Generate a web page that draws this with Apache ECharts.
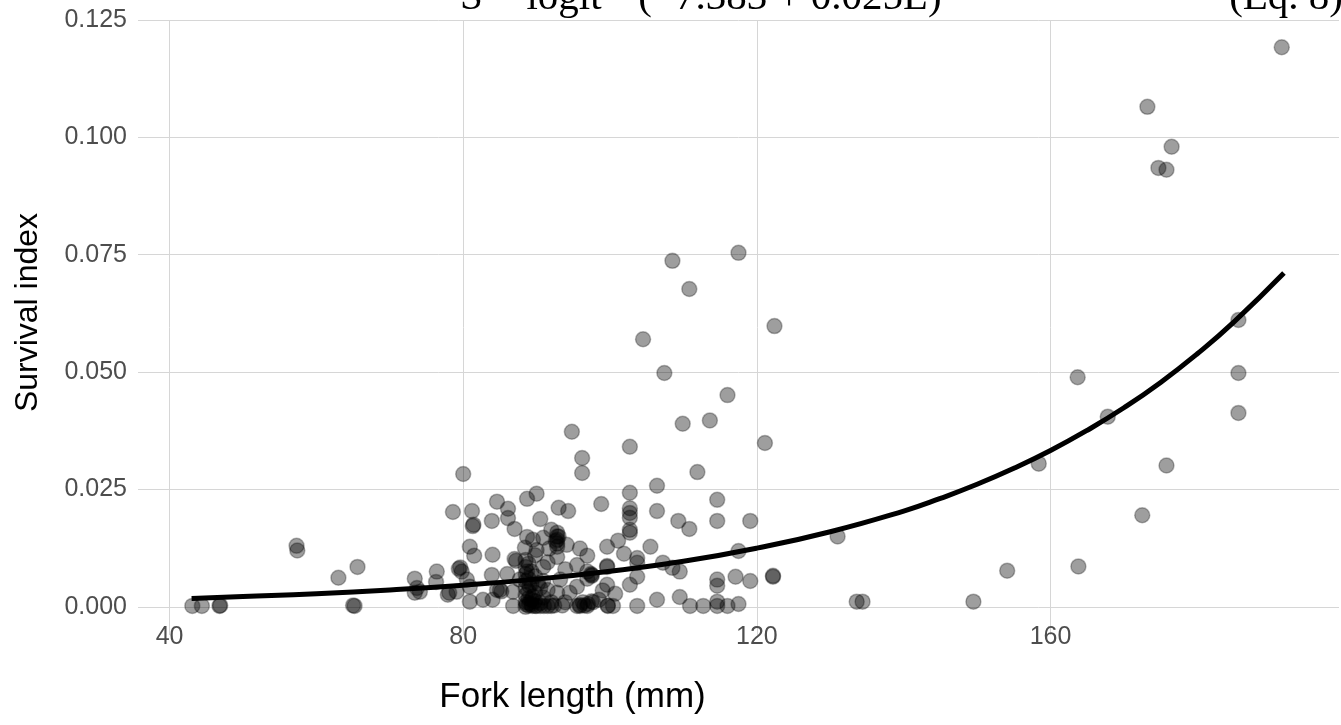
<!DOCTYPE html>
<html>
<head>
<meta charset="utf-8">
<script src="https://cdn.jsdelivr.net/npm/echarts@6/dist/echarts.min.js"></script>
<style>
html,body{margin:0;padding:0;background:#fff;}
#chart{width:1341px;height:725px;}
</style>
</head>
<body>
<div id="chart"></div>
<script>
// ---- data ----
const xTickValues = [40, 80, 120, 160];
const yTickValues = [0, 0.025, 0.05, 0.075, 0.1, 0.125];
const xAxisTitle = 'Fork length (mm)';
const yAxisTitle = 'Survival index';
const equationText = 'S = logit\u207B\u00B9 (\u22127.383 + 0.025L)';
const equationTag = '(Eq. 8)';

// observed fish: [fork length (mm), survival index]
const fishObservations = [
  [43.1,0.0002],[44.4,0.0002],[46.8,0.0002],[46.9,0.0003],
  [57.3,0.0130],[57.4,0.0120],[63.0,0.0062],[65.6,0.0085],[65.0,0.0003],[65.2,0.0002],
  [73.4,0.0060],[73.7,0.0040],[74.1,0.0032],[73.4,0.0030],[76.4,0.0075],[76.3,0.0053],
  [77.9,0.0026],[78.1,0.0030],[78.6,0.0202],[79.4,0.0081],[79.6,0.0084],[79.8,0.0075],[79.1,0.0032],
  [80.0,0.0283],[80.5,0.0058],[80.9,0.0043],[80.9,0.0011],[80.9,0.0128],
  [81.2,0.0204],[81.3,0.0172],[81.4,0.0175],[81.5,0.0109],[82.7,0.0015],
  [83.9,0.0183],[83.9,0.0068],[84.0,0.0111],[84.0,0.0015],[84.6,0.0224],[84.6,0.0036],
  [85.0,0.0036],[85.2,0.0033],[86.1,0.0209],[86.1,0.0189],[86.0,0.0070],[86.8,0.0032],[86.8,0.0002],
  [87.0,0.0166],[87.0,0.0102],[87.2,0.0098],[87.7,0.0058],[88.4,0.0126],[88.7,0.0230],[88.7,0.0149],
  [88.5,0.0000],[88.5,0.0010],[88.5,0.0025],[88.5,0.0040],[88.5,0.0055],[88.5,0.0070],[88.5,0.0085],[88.5,0.0100],
  [88.6,0.0005],[88.7,0.0075],[89.0,0.0008],[89.0,0.0045],[89.4,0.0002],[89.5,0.0022],[90.0,0.0002],[90.2,0.0050],
  [88.9,0.0003],[88.9,0.0018],[88.9,0.0033],[88.9,0.0060],[88.9,0.0092],
  [89.3,0.0005],[89.3,0.0015],[89.3,0.0048],[89.3,0.0075],[89.5,0.0143],
  [89.8,0.0002],[89.8,0.0012],[89.8,0.0030],[89.8,0.0065],[89.8,0.0110],
  [90.0,0.0241],[90.0,0.0121],[90.5,0.0187],[90.5,0.0002],[90.5,0.0008],[90.5,0.0040],
  [90.9,0.0147],[90.9,0.0020],[90.9,0.0055],[90.9,0.0085],[91.0,0.0002],
  [91.5,0.0036],[91.5,0.0002],[91.5,0.0095],[91.7,0.0124],
  [92.0,0.0164],[92.0,0.0002],[92.0,0.0010],[92.4,0.0003],[92.6,0.0140],
  [92.8,0.0106],[92.8,0.0030],[92.8,0.0158],[92.8,0.0150],[92.8,0.0143],[92.8,0.0135],[92.8,0.0128],
  [93.0,0.0211],[93.0,0.0150],[93.2,0.0058],[93.5,0.0003],[93.9,0.0010],[93.9,0.0080],[94.1,0.0132],[94.3,0.0204],[94.5,0.0030],[94.8,0.0373],
  [95.5,0.0089],[95.5,0.0043],[95.5,0.0002],[95.9,0.0124],[95.9,0.0002],[95.9,0.0004],
  [96.2,0.0317],[96.2,0.0285],[96.3,0.0010],[96.5,0.0003],[96.9,0.0109],[96.9,0.0075],[96.9,0.0002],[96.9,0.0060],[97.0,0.0006],
  [97.4,0.0070],[97.5,0.0068],[97.5,0.0066],[97.5,0.0012],[97.7,0.0010],[98.5,0.0015],[98.8,0.0219],[99.0,0.0035],
  [99.6,0.0128],[99.6,0.0085],[99.6,0.0087],[99.6,0.0047],[99.7,0.0002],[99.7,0.0003],
  [100.4,0.0002],[100.7,0.0028],[101.1,0.0141],[101.9,0.0113],
  [102.7,0.0341],[102.7,0.0243],[102.7,0.0210],[102.7,0.0200],[102.7,0.0190],[102.7,0.0164],[102.7,0.0158],[102.7,0.0047],
  [103.7,0.0104],[103.7,0.0094],[103.7,0.0064],[103.7,0.0002],
  [104.5,0.0570],[105.5,0.0128],[106.4,0.0258],[106.4,0.0204],[106.4,0.0015],
  [107.2,0.0094],[107.4,0.0498],[108.5,0.0737],[108.5,0.0083],[109.3,0.0183],
  [109.5,0.0075],[109.5,0.0021],[109.9,0.0390],[110.8,0.0677],[110.8,0.0166],[110.9,0.0002],
  [111.9,0.0287],[112.7,0.0002],[113.6,0.0397],
  [114.6,0.0228],[114.6,0.0183],[114.6,0.0058],[114.6,0.0045],[114.6,0.0011],[114.6,0.0002],
  [116.0,0.0451],[116.0,0.0002],[117.1,0.0064],[117.5,0.0754],[117.5,0.0119],[117.5,0.0006],
  [119.1,0.0183],[119.1,0.0055],[121.1,0.0349],[122.2,0.0064],[122.2,0.0066],[122.4,0.0598],
  [131.0,0.0150],[133.6,0.0011],[134.4,0.0011],[149.5,0.0011],[154.1,0.0077],[158.4,0.0305],
  [163.7,0.0489],[163.8,0.0086],[167.8,0.0405],[172.5,0.0195],[173.2,0.1065],
  [174.7,0.0935],[175.8,0.0931],[175.8,0.0301],[176.5,0.0980],
  [185.6,0.0611],[185.6,0.0498],[185.6,0.0413],[191.5,0.1192]
];

// fitted curve
const curveLength   = [43, 50, 60, 70, 80, 90, 100, 110, 120, 130, 140, 145, 150, 155, 160, 165, 170, 175, 180, 185, 191.8];
const curveSurvival = [0.0018, 0.0022, 0.0028, 0.0036, 0.0046, 0.0059, 0.0076, 0.0097, 0.0125, 0.0160, 0.0204, 0.0231, 0.0261, 0.0295, 0.0333, 0.0376, 0.0424, 0.0478, 0.0539, 0.0607, 0.0711];

// ---- chart ----
const chart = echarts.init(document.getElementById('chart'), null, {renderer: 'canvas'});
const gridColor = '#d6d6d6';
const option = {
  animation: false,
  backgroundColor: '#ffffff',
  grid: {left: 138, right: 2, top: 20, bottom: 90, containLabel: false},
  xAxis: {
    type: 'value', min: 35.7, max: 199.3,
    axisLine: {show: false},
    axisTick: {show: false, customValues: xTickValues},
    axisLabel: {customValues: xTickValues, color: '#4d4d4d', fontSize: 25, fontFamily: 'Liberation Sans', margin: -10},
    splitLine: {show: true, lineStyle: {color: gridColor, width: 1}},
    name: xAxisTitle, nameLocation: 'middle', nameGap: 45,
    nameTextStyle: {color: '#000', fontSize: 35, fontFamily: 'Liberation Sans', padding: [0, 332, 0, 0]}
  },
  yAxis: {
    type: 'value', min: -0.006, max: 0.125,
    axisLine: {show: false},
    axisTick: {show: false, customValues: yTickValues},
    axisLabel: {customValues: yTickValues, color: '#4d4d4d', fontSize: 25, fontFamily: 'Liberation Sans', margin: 11,
      formatter: v => v.toFixed(3)},
    splitLine: {show: true, lineStyle: {color: gridColor, width: 1}},
    name: yAxisTitle, nameLocation: 'middle', nameGap: 94, nameRotate: 90,
    nameTextStyle: {color: '#000', fontSize: 32, fontFamily: 'Liberation Sans', padding: [0, 0, 0, 30]}
  },
  graphic: [
    {type: 'text', left: 460, top: -22, z: 10,
     style: {text: equationText, font: '41px "Liberation Serif"', fill: '#000'}},
    {type: 'text', right: -2, top: -22, z: 10,
     style: {text: equationTag, font: '41px "Liberation Serif"', fill: '#000'}}
  ],
  series: [
    {
      type: 'scatter', symbol: 'circle', symbolSize: 15,
      data: fishObservations,
      itemStyle: {color: 'rgba(0,0,0,0.38)', borderColor: 'rgba(0,0,0,0.28)', borderWidth: 1.5, opacity: 1},
      emphasis: {disabled: true}, z: 2
    },
    {
      type: 'line', smooth: true, showSymbol: false, symbol: 'none',
      data: curveLength.map((x, i) => [x, curveSurvival[i]]),
      lineStyle: {color: '#000', width: 5},
      emphasis: {disabled: true}, z: 3
    }
  ]
};
chart.setOption(option);
</script>
</body>
</html>
